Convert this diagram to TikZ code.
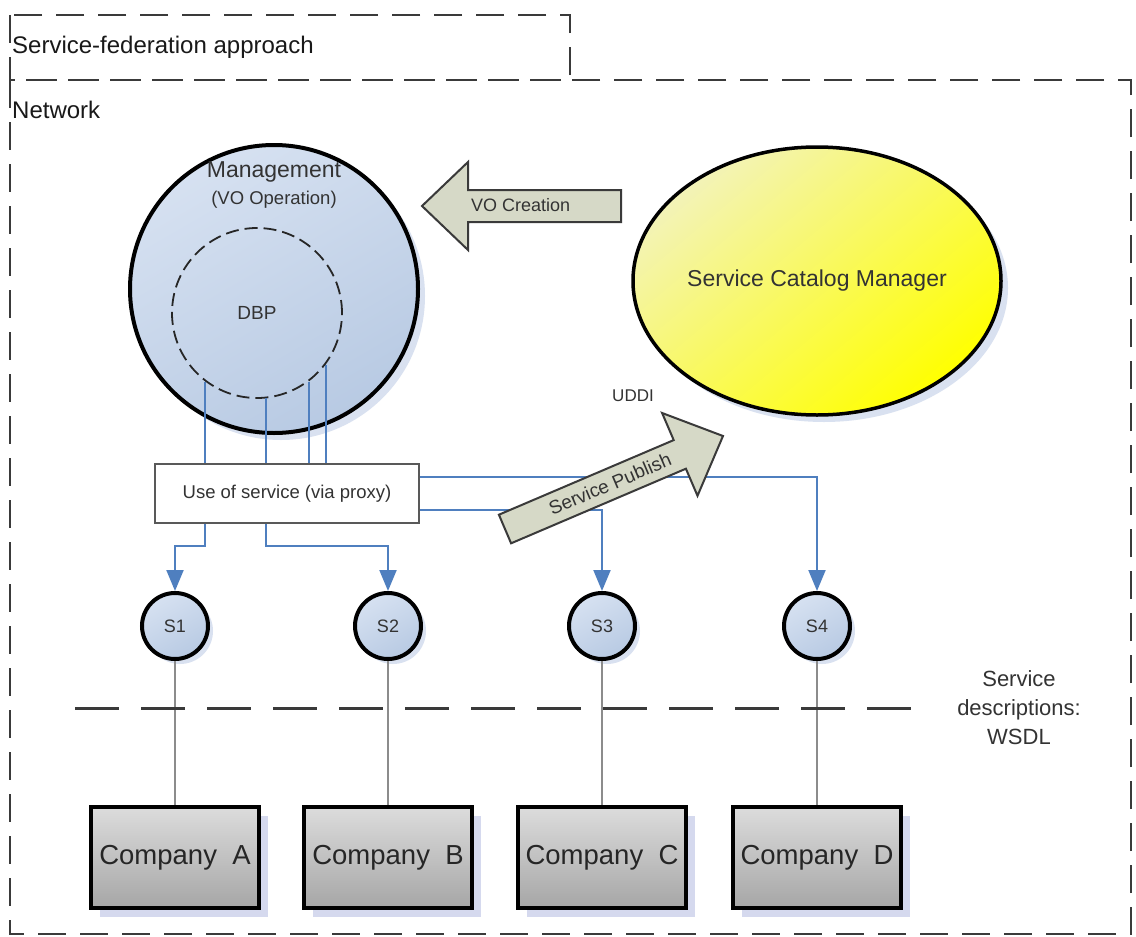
\documentclass[tikz,border=0pt]{standalone}
\usepackage{fontspec}
\setmainfont{Liberation Sans}
\usetikzlibrary{arrows.meta,shapes.geometric,shadows,calc}

\definecolor{ink}{HTML}{333333}
\definecolor{frame}{HTML}{3A3A3A}
\definecolor{wire}{HTML}{4F7FBF}
\definecolor{paleblue}{HTML}{D6E1F1}
\definecolor{midblue}{HTML}{B8CAE3}
\definecolor{halo}{HTML}{D9E1F0}
\definecolor{khaki}{HTML}{D6D9C7}
\definecolor{paleyellow}{HTML}{F3F3B8}
\definecolor{lightgrey}{HTML}{DCDCDC}
\definecolor{darkgrey}{HTML}{A6A6A6}
\definecolor{lilac}{HTML}{D5D9EE}
\definecolor{thread}{HTML}{8C8C8C}

\newcommand{\fsz}[2]{\fontsize{#1pt}{#2pt}\selectfont}

\tikzset{
  zone/.style={draw=frame, line width=2pt, dash pattern=on 28pt off 14pt},
  halo shadow/.style={drop shadow={fill=halo, opacity=1, shadow xshift=#1, shadow yshift=-#1}},
  bluefill/.style={top color=paleblue, bottom color=midblue, shading angle=30},
  label/.style={text=ink, inner sep=0},
  blockarrow/.style={fill=khaki, draw=frame, line width=2pt, line join=miter},
  svc/.style={circle, minimum size=66pt, inner sep=0, draw=black, line width=4pt,
    bluefill, halo shadow=5pt, font=\fsz{18}{21}, text=ink},
  company/.style={rectangle, minimum width=168pt, minimum height=101pt, inner sep=0,
    draw=black, line width=3.5pt, top color=lightgrey, bottom color=darkgrey,
    drop shadow={fill=lilac, opacity=1, shadow xshift=9pt, shadow yshift=-9pt},
    font=\fsz{27.5}{31}, text=black!85},
  wireline/.style={draw=wire, line width=2pt},
  wirearrow/.style={wireline, -{Triangle[length=21pt,width=17pt]}},
  threadline/.style={draw=thread, line width=1.5pt},
  divider/.style={draw=frame, line width=3pt, dash pattern=on 44pt off 22pt},
}

\begin{document}
\begin{tikzpicture}[x=1pt,y=-1pt]
\useasboundingbox (0,0) rectangle (1136,937);
\fill[white] (0,0) rectangle (1136,937);

% framing zones
\draw[zone] (10,80) rectangle (1131,934);
\draw[zone] (10,15) rectangle (570,80);
\node[label, anchor=west, text=black!90, font=\fsz{24}{28}] (title) at (12,47) {Service-federation approach};
\node[label, anchor=west, text=black!90, font=\fsz{24}{28}] (net) at (12,110) {Network};

% management sphere with the DBP core
\node[circle, minimum size=288pt, inner sep=0, draw=black, line width=4pt,
      bluefill, halo shadow=7pt] (mgmt) at (274,289) {};
\node[label, font=\fsz{23}{27}] (mgmtname) at (274,172) {Management};
\node[label, font=\fsz{18.5}{22}] (mgmtrole) at (274,200) {(VO Operation)};
\node[circle, minimum size=170pt, inner sep=0, draw=black!85, line width=1.8pt,
      dash pattern=on 13pt off 6pt, font=\fsz{19}{22}, text=ink] (dbp) at (257,313) {DBP};

% service catalog manager
\node[ellipse, minimum width=368pt, minimum height=268pt, inner sep=0, draw=black,
      line width=3.5pt, top color=paleyellow, bottom color=yellow, shading angle=40,
      halo shadow=7pt, font=\fsz{23}{27}, text=ink] (scm) at (817,281) {Service Catalog Manager};

% VO creation block arrow
\draw[blockarrow] (621,190) -- (468,190) -- (468,162) -- (422,206) -- (468,250)
  -- (468,222) -- (621,222) -- cycle;
\node[label, anchor=west, font=\fsz{18}{22}] (vocreate) at (471,205) {VO Creation};

% proxy
\node[draw=black!65, line width=1.5pt, fill=white, minimum width=264pt, minimum height=59pt,
      inner sep=0, font=\fsz{18.5}{22}, text=ink] (proxy) at (287,493.5) {Use of service (via proxy)};

% services and companies
\foreach \n/\x in {1/175,2/388,3/602,4/817}
  \node[svc] (s\n) at (\x,626) {S\n};
\foreach \c/\x in {A/175,B/388,C/602,D/817}
  \node[company] (c\c) at (\x,857.5) {Company\ \ \c};
\foreach \n/\c in {1/A,2/B,3/C,4/D}
  \draw[threadline] (s\n.south) -- (c\c.north);

% WSDL boundary
\draw[divider] (75,708) -- (925,708);
\node[label, align=center, font=\fsz{22}{29}] (wsdl) at (1019,708) {Service\\descriptions:\\WSDL};

% wiring from the DBP core through the proxy
\foreach \a in {233,276,307,323}
  \draw[wireline] (dbp.\a) -- (dbp.\a |- proxy.north);
\draw[wirearrow] (dbp.233 |- proxy.south) -- ++(0,22) -| (s1.north);
\draw[wirearrow] (dbp.276 |- proxy.south) -- ++(0,22) -| (s2.north);
\draw[wirearrow] ([yshift=-16.5pt]proxy.east) -| (s3.north);
\draw[wirearrow] ([yshift=16.5pt]proxy.east) -| (s4.north);

% service publish block arrow
\draw[blockarrow] (498.9,514.7) -- (673.7,440.1) -- (662.1,413.0) -- (723,436)
  -- (697.5,495.8) -- (685.9,468.7) -- (511.1,543.3) -- cycle;
\node[label, rotate=23.1, font=\fsz{19}{22}] (publish) at (610,484) {Service Publish};
\node[label, font=\fsz{17}{20}] (uddi) at (633,396) {UDDI};

\end{tikzpicture}
\end{document}
